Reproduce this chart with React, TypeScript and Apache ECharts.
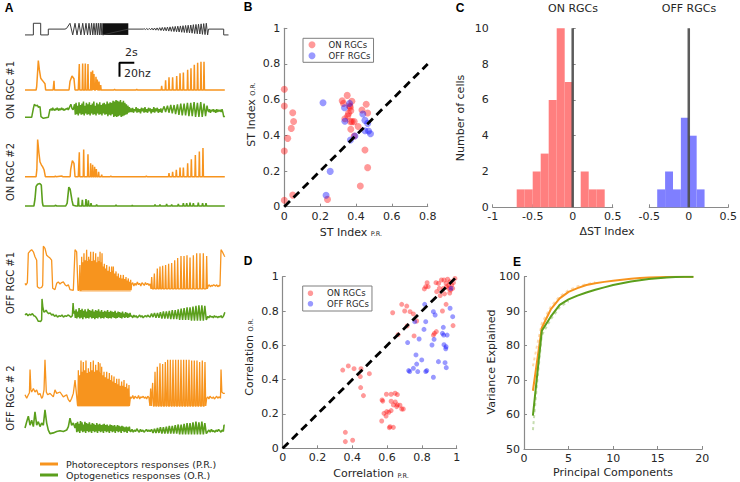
import React, { useEffect, useRef } from "react";
import * as echarts from "echarts";

// ---------------- colours & fonts ----------------
const ORANGE = "#f7941e";
const GREEN = "#5b9f1c";
const RED = "rgba(255,0,0,0.5)";
const BLUE = "rgba(0,0,255,0.5)";
const ON_HIST = "#ff7f7f";
const OFF_HIST = "#7f7fff";
const AXIS = "#8a8a8a";
const TXT = "#262626";
const FONT = "DejaVu Sans";
const PR_NAME = "Photoreceptors responses (P.R.)";
const OR_NAME = "Optogenetics responses (O.R.)";

// ---------------- Panel A data (time in s, rate in Hz) ----------------
const stimSteps = [[0, 0], [1.13, 0], [1.13, 1], [2.12, 1], [2.12, 0], [3.15, 0], [3.15, 0.5], [5.4, 0.5]];
const stimFreqChirp = [[5.6, 0.55], [6.08, 1], [6.45, 0], [6.76, 1], [7.03, 0], [7.3, 1], [7.55, 0], [7.8, 1], [8.02, 0], [8.24, 1], [8.45, 0], [8.65, 1], [8.83, 0], [9.0, 1], [9.16, 0], [9.32, 1], [9.48, 0], [9.64, 1], [9.78, 0], [9.91, 1], [10.05, 0], [10.18, 1], [10.29, 0], [10.4, 1], [10.5, 0]];
const stimDenseBlock = [10.5, 13.96];
const stimMid = [[13.96, 0.5], [16.0, 0.5]];
const stimAmpChirp = [[16.1, 0.54], [16.28, 0.46], [16.45, 0.55], [16.63, 0.45], [16.8, 0.56], [16.98, 0.44], [17.15, 0.58], [17.33, 0.42], [17.5, 0.59], [17.68, 0.41], [17.85, 0.6], [18.03, 0.4], [18.2, 0.62], [18.38, 0.38], [18.55, 0.64], [18.73, 0.36], [18.9, 0.65], [19.08, 0.35], [19.25, 0.67], [19.43, 0.33], [19.6, 0.69], [19.78, 0.31], [19.95, 0.71], [20.13, 0.29], [20.3, 0.73], [20.48, 0.27], [20.65, 0.75], [20.83, 0.25], [21.0, 0.77], [21.18, 0.23], [21.35, 0.79], [21.53, 0.21], [21.7, 0.81], [21.88, 0.19], [22.05, 0.83], [22.23, 0.17], [22.4, 0.85], [22.58, 0.15], [22.75, 0.88], [22.93, 0.12], [23.1, 0.9], [23.28, 0.1], [23.45, 0.92], [23.63, 0.08], [23.8, 0.95], [23.98, 0.05], [24.15, 0.97], [24.33, 0.03], [24.5, 1.0], [24.68, 0.0]];
const stimEnd = [[24.8, 0.5], [26.85, 0.5], [26.85, 0], [27.5, 0]];

const on1OrangeBase = [[0, 0], [1.5, 0], [1.58, 5], [1.8, 42], [1.94, 29], [2.12, 17], [2.25, 15], [2.48, 12], [2.7, 9], [2.79, 0], [3.8, 0], [4.1, 0], [5.95, 0], [6.08, 12], [6.35, 20], [6.62, 16], [6.76, 0], [7.2, 0], [10.35, 0], [12, 0], [12.1, 1], [12.2, 0], [15, 0], [15.1, 1], [15.2, 0], [18.3, 0], [24.35, 0], [27, 0]];
const on1OrangeSpikes = [[3.92, 13], [7.34, 37], [7.79, 38], [8.15, 38], [8.51, 37], [8.92, 26], [9.14, 28], [9.32, 23], [9.59, 19], [9.77, 15], [10.0, 12], [10.23, 7], [18.47, 6], [19.0, 14], [19.46, 18], [19.95, 18], [20.5, 20], [20.95, 24], [21.4, 25], [21.98, 29], [22.43, 31], [22.88, 36], [23.33, 39], [23.78, 40.5], [24.19, 40.5]];

const on1GreenBase = [[0, 1.4], [0.9, 1.4], [1.13, 14], [1.26, 20], [1.49, 17.6], [1.67, 19], [1.8, 15.7], [2.03, 16.7], [2.16, 2.4], [2.48, 0], [3.15, 1.4], [3.38, 12.9]];
const on1GreenPre = [12, 14, 11, 15, 12, 13, 11, 14, 12, 15, 13, 11, 14, 12, 13, 15, 12, 14, 11, 13, 12, 14, 13, 15, 12, 14];
const on1GreenBump = [[6.08, 17.6], [6.2, 20], [6.35, 14], [6.5, 12]];
const on1GreenDense = [20, 5, 22, 6, 18, 4, 23, 7, 19, 5, 21, 6, 24, 4, 18, 7, 22, 5, 20, 6, 23, 4, 19, 7, 21, 5, 24, 6, 18, 4, 22, 7, 20, 5, 23, 6, 19, 4, 21, 7, 22, 5, 20, 6, 24, 3, 21, 5, 23, 4, 22, 6, 25, 2, 24, 3, 26, 2, 25, 3, 24, 4, 26, 2, 23, 3, 25, 4, 22, 5, 20, 6, 18, 8, 16, 9];
const on1GreenMid = [14, 9, 15, 8, 13, 10, 16, 8, 14, 9, 13, 7, 15, 10, 14, 8, 16, 9, 13, 8, 15, 10, 14, 7, 13, 9, 16, 8, 14, 10, 15, 8, 13, 9, 14, 8, 12];
const on1GreenChirp = [[18.8, 17], [19.0, 9], [19.25, 18], [19.45, 8], [19.7, 19], [19.9, 7], [20.15, 19], [20.35, 6], [20.6, 20], [20.8, 5], [21.05, 21], [21.25, 4], [21.5, 21], [21.7, 4], [21.95, 22], [22.15, 3], [22.4, 22], [22.6, 3], [22.85, 23], [23.05, 2], [23.3, 22], [23.5, 2], [23.75, 23], [23.95, 2], [24.2, 21], [24.4, 3], [24.6, 18]];
const on1GreenPost = [12, 9, 13, 8, 12, 10, 13, 9, 12, 8, 13, 9, 12, 10, 12, 9, 13, 8];
const on1GreenEnd = [[26.85, 2], [27, 3]];

const on2OrangeBase = [[0, 0], [1.5, 0], [1.6, 10], [1.71, 53], [1.89, 33], [2.03, 21], [2.21, 17], [2.39, 14], [2.57, 10], [2.7, 3], [2.75, 0], [4.0, 0], [4.1, 1], [4.2, 0], [5.0, 1], [5.1, 0], [6.1, 0], [6.17, 10], [6.4, 23], [6.62, 19], [6.76, 0], [7.2, 0], [11.5, 0], [11.6, 1], [11.7, 0], [16.3, 0], [16.4, 1], [16.5, 0], [19.3, 0], [24.2, 0], [27, 0]];
const on2OrangeSpikes = [[7.34, 35], [7.93, 39], [8.51, 32], [8.87, 19], [9.14, 17], [9.41, 14], [9.64, 11], [9.95, 7], [10.36, 3], [19.46, 5], [19.95, 7], [20.45, 10], [20.95, 13], [21.4, 13], [21.98, 19], [22.48, 25], [23.02, 31], [23.56, 36], [24.05, 41]];

const on2GreenBase = [[0, 0], [1.2, 0], [1.35, 10], [1.5, 28], [1.7, 31], [2.0, 32], [2.2, 30], [2.35, 5], [2.45, 0], [4.0, 0], [4.1, 1], [4.3, 0], [5.5, 0], [5.7, 4], [5.92, 27], [6.1, 24], [6.35, 8], [6.5, 1], [6.9, 0], [27, 0]];
const on2GreenSpikes = [[7.21, 12], [7.75, 9], [8.24, 10], [8.56, 8], [8.92, 4], [9.68, 2], [12.3, 1.5], [14.5, 1], [17.57, 2], [18.24, 2], [19.14, 3], [19.82, 2], [20.72, 3], [21.4, 4], [21.85, 4], [22.3, 5], [22.75, 4], [23.42, 5], [24.0, 4], [24.46, 4]];

const off1OrangeBase = [[0, 12], [0.14, 9.5], [0.32, 13], [0.45, 55], [0.68, 58], [0.9, 60], [1.13, 57], [1.35, 50], [1.58, 45], [1.67, 7], [1.94, 5], [2.25, 6], [2.39, 9], [2.48, 65], [2.7, 62], [2.93, 52], [3.15, 50], [3.38, 48], [3.6, 45], [3.74, 5], [4.05, 3], [4.28, 12], [4.5, 14], [4.73, 11], [4.95, 13], [5.18, 14], [5.41, 10], [5.63, 8], [5.86, 10], [6.08, 3], [6.53, 2], [6.76, 60], [6.98, 57], [7.16, 2], [7.3, 2]];
const off1OrangeDense = [[7.42, 38], [7.66, 50], [7.82, 42], [7.97, 55], [8.15, 45], [8.33, 60], [8.47, 44], [8.6, 50], [8.74, 46], [8.87, 57], [9.05, 44], [9.23, 57], [9.39, 45], [9.55, 55], [9.7, 42], [9.86, 50], [10.0, 44], [10.14, 57], [10.28, 42], [10.41, 55], [10.56, 36], [10.72, 40], [10.88, 33], [11.04, 38], [11.22, 30], [11.4, 36], [11.55, 28], [11.71, 36], [11.83, 30], [11.94, 36], [12.12, 26], [12.3, 29], [12.45, 22], [12.61, 26], [12.77, 20], [12.93, 24], [13.11, 19], [13.29, 24], [13.47, 18], [13.65, 21], [13.8, 16], [13.96, 19], [14.12, 14], [14.28, 17]];
const off1OrangeFill = [[7.35, 0], [7.45, 26], [8, 36], [9.5, 36], [10.5, 34], [11, 26], [12, 22], [13, 15], [14.25, 11], [14.3, 0]];
const off1OrangeMid = [10, 13, 8, 12, 9, 14, 10, 12, 8, 13, 11, 9, 13, 10, 12, 9, 11];
const off1OrangeChirp = [[17.12, 21], [17.48, 26], [17.88, 33], [18.24, 36], [18.6, 37], [19.0, 38], [19.41, 40], [19.82, 41], [20.23, 45], [20.63, 48], [21.08, 51], [21.49, 51], [21.89, 52], [22.3, 49], [22.75, 52], [23.2, 55], [23.65, 55], [24.1, 55], [24.55, 51]];
const off1OrangePost = [8, 10, 7, 9, 8, 10, 9, 8, 10, 7, 9, 8];
const off1OrangeEnd = [[26.42, 8], [26.49, 60], [26.67, 57], [26.9, 52], [27.0, 50]];

const off1GreenBase = [[0, 10], [0.2, 12], [0.4, 9], [0.6, 11], [0.8, 10], [1.0, 12], [1.2, 9], [1.4, 8], [1.6, 5], [1.8, 1], [2.0, 1], [2.1, 0.5], [2.25, 3], [2.3, 33], [2.4, 22], [2.55, 14], [2.7, 15], [2.85, 17], [3.0, 14], [3.2, 12], [3.4, 13], [3.6, 10], [3.8, 11], [4.0, 8], [4.2, 10], [4.4, 7], [4.6, 9], [4.8, 8], [5.0, 10], [5.2, 7], [5.4, 9], [5.6, 8], [5.8, 10], [6.0, 9], [6.2, 7], [6.4, 9], [6.5, 27], [6.6, 12]];
const off1GreenDense = [16, 6, 18, 5, 15, 7, 20, 5, 17, 6, 19, 4, 16, 7, 18, 5, 15, 6, 19, 5, 17, 7, 16, 5, 18, 6, 15, 4, 17, 6, 16, 5, 18, 7, 15, 5, 17, 6, 14, 5, 16, 7, 15, 6, 17, 5, 14, 6, 16, 5, 15, 7, 14, 6, 16, 5, 13, 6, 15, 7, 14, 6, 13, 5, 15, 7, 12, 6, 14, 7, 13, 6, 12, 7, 13, 8];
const off1GreenMid = [9, 6, 10, 7, 9, 6, 8, 10, 7, 9, 6, 8, 9, 7, 10, 8, 7];
const off1GreenChirp = [[17.1, 12], [17.3, 7], [17.5, 13], [17.7, 6], [17.9, 13], [18.1, 6], [18.3, 14], [18.5, 5], [18.7, 15], [18.9, 5], [19.1, 15], [19.3, 5], [19.5, 16], [19.7, 4], [19.9, 17], [20.1, 4], [20.3, 17], [20.5, 4], [20.7, 18], [20.9, 3], [21.1, 19], [21.3, 3], [21.5, 20], [21.7, 3], [21.9, 21], [22.1, 3], [22.3, 21], [22.5, 2], [22.7, 22], [22.9, 2], [23.1, 23], [23.3, 2], [23.5, 24], [23.7, 2], [23.9, 24], [24.1, 2], [24.3, 23], [24.5, 3]];
const off1GreenPost = [8, 6, 9, 7, 8, 6, 9, 7, 8, 6, 8, 7, 9, 6, 8];
const off1GreenEnd = [[26.95, 12], [27, 14]];

const off2OrangeBase = [[0, 17], [0.23, 12], [0.45, 17], [0.6, 20], [0.68, 53], [0.8, 24], [0.9, 21], [1.13, 26], [1.35, 21], [1.58, 24], [1.8, 17], [2.03, 19], [2.25, 12], [2.39, 14], [2.57, 24], [2.7, 67], [2.88, 21], [3.06, 17], [3.38, 19], [3.83, 14], [4.05, 24], [4.28, 19], [4.73, 21], [5.18, 14], [5.63, 17], [5.86, 10], [6.08, 7], [6.31, 12], [6.53, 19], [6.76, 38], [6.9, 24], [7.1, 2]];
const off2OrangeDense = [[7.21, 52], [7.39, 45], [7.57, 66], [7.72, 50], [7.88, 64], [8.06, 52], [8.24, 66], [8.4, 48], [8.56, 55], [8.72, 50], [8.87, 64], [9.05, 52], [9.23, 66], [9.39, 50], [9.55, 60], [9.73, 52], [9.91, 64], [10.03, 50], [10.14, 62], [10.25, 48], [10.36, 57], [10.52, 45], [10.68, 50], [10.86, 42], [11.04, 50], [11.22, 40], [11.4, 48], [11.55, 38], [11.71, 45], [11.87, 36], [12.03, 43], [12.21, 34], [12.39, 40], [12.55, 32], [12.7, 40], [12.88, 30], [13.06, 36], [13.22, 30], [13.38, 38], [13.56, 28], [13.74, 33], [13.9, 26], [14.05, 31]];
const off2OrangeFill = [[7.12, 0], [7.2, 34], [8, 44], [9.5, 44], [10.5, 36], [11.5, 30], [12.5, 25], [13.5, 21], [14.05, 18], [14.1, 0]];
const off2OrangeMid = [14, 12, 16, 11, 15, 13, 12, 16, 11, 14, 13, 15, 12, 14, 11, 15, 13];
const off2OrangeChirp = [[16.98, 26], [17.25, 34], [17.57, 50], [17.88, 57], [18.24, 62], [18.6, 61], [18.96, 64], [19.28, 67], [19.64, 67], [20.0, 67], [20.36, 67], [20.72, 67], [21.08, 67], [21.44, 67], [21.8, 67], [22.16, 67], [22.52, 66], [22.88, 66], [23.24, 66], [23.6, 64], [23.96, 66], [24.32, 64]];
const off2OrangePost = [12, 14, 11, 15, 13, 12, 14, 11, 13, 15, 12, 14, 13];
const off2OrangeEnd = [[26.42, 12], [26.49, 53], [26.6, 21], [26.8, 19], [27, 19]];

const off2GreenBase = [[0, 10], [0.23, 19], [0.45, 27], [0.68, 14], [0.9, 21], [1.13, 12], [1.35, 33], [1.58, 14], [1.8, 19], [2.03, 12], [2.25, 17], [2.48, 14], [2.7, 36], [2.93, 17], [3.15, 7], [3.38, 2], [3.83, 3], [4.28, 5], [4.73, 6], [5.18, 5], [5.63, 7], [5.86, 12], [6.08, 24], [6.31, 14], [6.53, 17], [6.76, 10]];
const off2GreenDense = [17, 4, 19, 5, 16, 3, 20, 6, 18, 4, 15, 5, 19, 3, 17, 6, 16, 4, 18, 5, 15, 3, 17, 6, 16, 4, 14, 5, 17, 3, 15, 6, 16, 4, 14, 5, 15, 3, 16, 6, 14, 4, 15, 5, 13, 3, 15, 6, 14, 4, 13, 5, 14, 3, 12, 6, 14, 4, 13, 5, 12, 3, 13, 6, 12, 4, 11, 5, 12, 3, 11, 6, 12, 5];
const off2GreenMid = [5, 8, 4, 7, 5, 9, 6, 4, 8, 5, 7, 4, 6, 8, 5, 7, 5];
const off2GreenChirp = [[17.1, 8], [17.3, 3], [17.5, 9], [17.7, 3], [17.9, 10], [18.1, 3], [18.3, 11], [18.5, 2], [18.7, 11], [18.9, 2], [19.1, 12], [19.3, 2], [19.5, 13], [19.7, 2], [19.9, 13], [20.1, 2], [20.3, 14], [20.5, 2], [20.7, 15], [20.9, 1], [21.1, 15], [21.3, 1], [21.5, 16], [21.7, 1], [21.9, 17], [22.1, 1], [22.3, 17], [22.5, 1], [22.7, 18], [22.9, 1], [23.1, 19], [23.3, 1], [23.5, 18], [23.7, 1], [23.9, 19], [24.1, 1], [24.3, 17], [24.5, 2]];
const off2GreenPost = [5, 7, 4, 8, 5, 6, 4, 7, 5, 8, 6, 4, 7, 5];
const off2GreenEnd = [[26.9, 14], [27, 14]];

const scaleBarSeconds = 2;
const scaleBarHz = 20;
const scaleBarOrigin = [12.77, 19];

// ---------------- Panel B data ----------------
const bOn = [[0, 0.658], [0, 0.564], [0, 0.312], [0, 0.036], [0.047, 0.527], [0.052, 0.478], [0.039, 0.439], [0.019, 0.383], [0.047, 0.065], [0.241, 0.041], [0.351, 0.624], [0.323, 0.594], [0.33, 0.579], [0.377, 0.591], [0.364, 0.564], [0.368, 0.558], [0.371, 0.538], [0.358, 0.523], [0.354, 0.508], [0.338, 0.493], [0.369, 0.477], [0.378, 0.477], [0.39, 0.477], [0.371, 0.434], [0.412, 0.45], [0.39, 0.396], [0.457, 0.574], [0.465, 0.525], [0.433, 0.542], [0.45, 0.318], [0.465, 0.219], [0.424, 0.116]];
const bOff = [[0.216, 0.583], [0.256, 0.198], [0.233, 0.064], [0.336, 0.555], [0.364, 0.579], [0.338, 0.479], [0.369, 0.374], [0.394, 0.396], [0.438, 0.52], [0.45, 0.484], [0.465, 0.467], [0.45, 0.426], [0.47, 0.424], [0.481, 0.409]];
const bDiagonal = [[0, 0], [0.8, 0.8]];

// ---------------- Panel C data ----------------
const histBin = 0.1;
const onBinStarts = [-0.7, -0.6, -0.5, -0.4, -0.3, -0.2, -0.1, 0, 0.1, 0.2, 0.3];
const onCounts = [1, 1, 2, 3, 6, 10, 7, 0, 2, 1, 1];
const offBinStarts = [-0.4, -0.3, -0.2, -0.1, 0, 0.1];
const offCounts = [1, 2, 1, 5, 4, 1];
const zeroLine = [[0, 0], [0, 10]];

// ---------------- Panel D data ----------------
const dOn = [[0.822, 0.942], [0.83, 0.965], [0.814, 0.929], [0.836, 0.942], [0.881, 0.965], [0.896, 0.961], [0.912, 0.981], [0.927, 0.981], [0.948, 0.985], [0.939, 0.961], [0.962, 0.971], [0.971, 0.952], [0.981, 0.965], [0.952, 0.932], [0.977, 0.932], [0.923, 0.932], [0.885, 0.913], [0.9, 0.932], [0.942, 0.942], [0.965, 0.922], [0.99, 0.99], [0.955, 0.95], [0.93, 0.9], [0.96, 0.905], [0.905, 0.89], [0.632, 0.79], [0.684, 0.839], [0.713, 0.829], [0.701, 0.8], [0.732, 0.796], [0.751, 0.783], [0.715, 0.713], [0.663, 0.662], [0.77, 0.742], [0.755, 0.655], [0.872, 0.67], [0.866, 0.66], [0.939, 0.839], [0.918, 0.8], [0.979, 0.715], [0.883, 0.68], [0.345, 0.456], [0.377, 0.48], [0.41, 0.464], [0.45, 0.464], [0.498, 0.435], [0.446, 0.418], [0.448, 0.354], [0.464, 0.307], [0.571, 0.282], [0.575, 0.275], [0.596, 0.315], [0.623, 0.315], [0.646, 0.321], [0.659, 0.313], [0.623, 0.274], [0.647, 0.27], [0.636, 0.253], [0.659, 0.253], [0.674, 0.251], [0.655, 0.243], [0.684, 0.229], [0.693, 0.229], [0.623, 0.22], [0.598, 0.214], [0.582, 0.204], [0.594, 0.188], [0.61, 0.21], [0.569, 0.159], [0.617, 0.126], [0.636, 0.122], [0.613, 0.12], [0.36, 0.093], [0.36, 0.039], [0.402, 0.047]];
const dOff = [[0.816, 0.839], [0.866, 0.796], [0.876, 0.777], [0.822, 0.738], [0.759, 0.738], [0.812, 0.693], [0.718, 0.616], [0.784, 0.637], [0.923, 0.705], [0.918, 0.67], [0.858, 0.602], [0.927, 0.604], [0.939, 0.592], [0.937, 0.58], [0.962, 0.816], [0.977, 0.767], [0.967, 0.932], [0.87, 0.635], [0.766, 0.544], [0.799, 0.515], [0.77, 0.491], [0.751, 0.466], [0.724, 0.453], [0.828, 0.453], [0.895, 0.505], [0.933, 0.499], [0.866, 0.414], [0.73, 0.447], [0.776, 0.447], [0.822, 0.447], [0.94, 0.47], [0.945, 0.66], [0.925, 0.66]];
const dDiagonal = [[0, 0], [1, 1]];

// ---------------- Panel E data ----------------
const eComponents = [1, 2, 3, 4, 5, 6, 7, 8, 9, 10, 11, 12, 13, 14, 15, 16, 17, 18, 19];
const ePR = [66.9, 85.2, 90.5, 93.7, 95.6, 96.7, 97.6, 98.1, 98.5, 98.8, 99.1, 99.4, 99.6, 99.75, 99.85, 99.92, 99.96, 99.98, 100];
const eOR = [59.7, 84.3, 88.4, 91.8, 93.4, 94.5, 95.4, 96.2, 96.9, 97.6, 98.1, 98.6, 99.0, 99.3, 99.55, 99.75, 99.88, 99.95, 100];
const ePRSpread = [[1, 74], [1.5, 80.5], [2, 86.5], [3, 91.3], [4, 94.3], [5, 96.1], [6, 97.2], [8, 98.4]];
const eORSpread = [[1, 55.5], [1.5, 70], [2, 83], [3, 87.6], [4, 91.1], [5, 92.9]];

// ---------------- helpers ----------------
const segSpan = (t0: number, t1: number, vals: number[]) =>
  vals.map((v, i) => [t0 + ((t1 - t0) * i) / (vals.length - 1), v]);
const spikeShape = (list: number[][], floor: number, hw: number) =>
  list.flatMap(([t, h]) => [[t - hw, floor], [t, h], [t + hw, floor]]);
const merge = (...parts: number[][][]) => parts.flat().sort((a, b) => a[0] - b[0]);

const stimulus = merge(stimSteps, stimFreqChirp, stimMid, stimAmpChirp, stimEnd);
const on1Orange = merge(on1OrangeBase, spikeShape(on1OrangeSpikes, 0, 0.06));
const on1Green = merge(on1GreenBase, segSpan(3.45, 5.95, on1GreenPre), on1GreenBump, segSpan(6.7, 14.2, on1GreenDense), segSpan(14.3, 18.6, on1GreenMid), on1GreenChirp, segSpan(24.7, 26.75, on1GreenPost), on1GreenEnd);
const on2Orange = merge(on2OrangeBase, spikeShape(on2OrangeSpikes, 0, 0.06));
const on2Green = merge(on2GreenBase, spikeShape(on2GreenSpikes, 0, 0.07));
const off1Orange = merge(off1OrangeBase, spikeShape(off1OrangeDense, 2, 0.06), segSpan(14.4, 16.9, off1OrangeMid), spikeShape(off1OrangeChirp, 4, 0.09), segSpan(24.75, 26.35, off1OrangePost), off1OrangeEnd);
const off1Green = merge(off1GreenBase, segSpan(6.7, 14.3, off1GreenDense), segSpan(14.4, 16.9, off1GreenMid), off1GreenChirp, segSpan(24.7, 26.8, off1GreenPost), off1GreenEnd);
const off2Orange = merge(off2OrangeBase, spikeShape(off2OrangeDense, 1, 0.06), segSpan(14.25, 16.75, off2OrangeMid), spikeShape(off2OrangeChirp, 1, 0.1), segSpan(24.55, 26.35, off2OrangePost), off2OrangeEnd);
const off2Green = merge(off2GreenBase, segSpan(6.9, 14.2, off2GreenDense), segSpan(14.3, 16.9, off2GreenMid), off2GreenChirp, segSpan(24.7, 26.8, off2GreenPost), off2GreenEnd);

// grid layout of panel A: [top, height, yMin, yMax]
const A_LEFT = 25;
const A_WIDTH = 203.5;
const A_TMAX = 27.5;
const aGrids = [
  [22.1, 14, -0.1, 1.1],
  [57.8, 33.6, -2, 46],
  [97.3, 22.4, -2, 30],
  [137.5, 40.6, -2, 56],
  [181.5, 25.9, -2, 35],
  [244.1, 49, -2, 68],
  [296.8, 26.6, -2, 36],
  [357.7, 50.4, -2, 70],
  [408.4, 28, -2, 38],
];

const axisStyle = {
  axisLine: { show: true, lineStyle: { color: AXIS, width: 1.2 } },
  axisTick: { show: true, inside: true, length: 3, lineStyle: { color: AXIS } },
  axisLabel: { color: TXT, fontSize: 11, fontFamily: FONT, margin: 4 },
  splitLine: { show: false },
};

const txt = (text: string, x: number, y: number, o: any = {}) => ({
  type: "text",
  x,
  y,
  rotation: o.rotation || 0,
  z: 100,
  style: {
    text,
    fill: o.fill || TXT,
    fontSize: o.fontSize || 11,
    fontFamily: o.fontFamily || FONT,
    fontWeight: o.fontWeight || "normal",
    align: o.align || "center",
    verticalAlign: "middle",
    rich: o.rich,
  },
});
const subRich = {
  m: { fontSize: 11, fontFamily: FONT, fill: TXT, lineHeight: 13, verticalAlign: "bottom" },
  s: { fontSize: 6.5, fontFamily: FONT, fill: TXT, lineHeight: 13, verticalAlign: "bottom" },
};

export default function App() {
  const ref = useRef<HTMLDivElement>(null);
  useEffect(() => {
    if (!ref.current) return;
    const chart = echarts.init(ref.current, undefined, { renderer: "svg" });

    const grid: any[] = [];
    const xAxis: any[] = [];
    const yAxis: any[] = [];
    aGrids.forEach(([top, height, ymin, ymax], i) => {
      grid.push({ left: A_LEFT, top, width: A_WIDTH, height });
      xAxis.push({ gridIndex: i, type: "value", min: 0, max: A_TMAX, show: false });
      yAxis.push({ gridIndex: i, type: "value", min: ymin, max: ymax, show: false });
    });
    // 9: B
    grid.push({ left: 284.3, top: 28.3, width: 143.4, height: 178.4 });
    xAxis.push({ gridIndex: 9, type: "value", min: 0, max: 0.8, interval: 0.2, ...axisStyle });
    yAxis.push({ gridIndex: 9, type: "value", min: 0, max: 1, interval: 0.2, ...axisStyle });
    // 10: C ON
    grid.push({ left: 492.7, top: 28.3, width: 120, height: 179 });
    xAxis.push({ gridIndex: 10, type: "value", min: -1, max: 0.5, interval: 0.5, ...axisStyle });
    yAxis.push({ gridIndex: 10, type: "value", min: 0, max: 10, interval: 2, ...axisStyle, axisLine: { show: false }, axisTick: { show: true, inside: true, length: 3, lineStyle: { color: AXIS } } });
    // 11: C OFF
    grid.push({ left: 649.3, top: 28.3, width: 81.7, height: 179 });
    xAxis.push({ gridIndex: 11, type: "value", min: -0.5, max: 0.5, interval: 0.5, ...axisStyle });
    yAxis.push({ gridIndex: 11, type: "value", min: 0, max: 10, show: false });
    // 12: D
    grid.push({ left: 282.7, top: 276.7, width: 174, height: 171.6 });
    xAxis.push({ gridIndex: 12, type: "value", min: 0, max: 1, interval: 0.2, ...axisStyle });
    yAxis.push({ gridIndex: 12, type: "value", min: 0, max: 1, interval: 0.2, ...axisStyle });
    // 13: E
    grid.push({ left: 524, top: 276.7, width: 178.3, height: 172.3 });
    xAxis.push({ gridIndex: 13, type: "value", min: 0, max: 20, interval: 5, ...axisStyle });
    yAxis.push({ gridIndex: 13, type: "value", min: 50, max: 100, interval: 10, ...axisStyle });

    const trace = (name: string, idx: number, data: number[][], color: string, width: number) => ({
      type: "line", name, xAxisIndex: idx, yAxisIndex: idx, data, symbol: "none", showSymbol: false,
      color, lineStyle: { color, width }, clip: false, silent: true,
    });
    const fill = (idx: number, data: number[][]) => ({
      type: "line", name: "fill", xAxisIndex: idx, yAxisIndex: idx, data, symbol: "none",
      lineStyle: { width: 0 }, areaStyle: { color: ORANGE, opacity: 0.5 }, silent: true, z: 1,
    });

    const histData = (starts: number[], counts: number[]) =>
      starts.map((s, i) => [s, s + histBin, counts[i]]).filter((d) => d[2] > 0);
    const hist = (name: string, idx: number, starts: number[], counts: number[], color: string) => ({
      type: "custom", name, xAxisIndex: idx, yAxisIndex: idx, data: histData(starts, counts),
      encode: { x: [0, 1], y: 2 },
      renderItem: (_p: any, api: any) => {
        const a = api.coord([api.value(0), api.value(2)]);
        const b = api.coord([api.value(1), 0]);
        return { type: "rect", shape: { x: a[0], y: a[1], width: b[0] - a[0], height: b[1] - a[1] }, style: { fill: color } };
      },
    });

    const scatter = (name: string, idx: number, data: number[][], color: string, size: number) => ({
      type: "scatter", name, xAxisIndex: idx, yAxisIndex: idx, data, symbolSize: size,
      itemStyle: { color }, color,
    });
    const diag = (idx: number, data: number[][]) => ({
      type: "line", name: "diagonal", xAxisIndex: idx, yAxisIndex: idx, data, symbol: "none",
      lineStyle: { color: "#000", width: 2.8, type: [8, 5] }, z: 5, silent: true,
    });

    const series: any[] = [
      {
        ...trace("stimulus", 0, stimulus, "#3a3a3a", 1),
        markArea: {
          silent: true,
          itemStyle: { color: "#111" },
          data: [[{ coord: [stimDenseBlock[0], 0] }, { coord: [stimDenseBlock[1], 1] }]],
        },
      },
      trace(PR_NAME, 1, on1Orange, ORANGE, 1.5),
      {
        type: "line", name: "scale bar", xAxisIndex: 1, yAxisIndex: 1, symbol: "none", silent: true,
        data: [[scaleBarOrigin[0], scaleBarOrigin[1]], [scaleBarOrigin[0], scaleBarOrigin[1] + scaleBarHz], [scaleBarOrigin[0] + scaleBarSeconds, scaleBarOrigin[1] + scaleBarHz]],
        lineStyle: { color: "#000", width: 2 }, clip: false,
      },
      trace(OR_NAME, 2, on1Green, GREEN, 1.5),
      trace(PR_NAME, 3, on2Orange, ORANGE, 1.5),
      trace(OR_NAME, 4, on2Green, GREEN, 1.6),
      fill(5, off1OrangeFill),
      trace(PR_NAME, 5, off1Orange, ORANGE, 1.3),
      trace(OR_NAME, 6, off1Green, GREEN, 1.5),
      fill(7, off2OrangeFill),
      trace(PR_NAME, 7, off2Orange, ORANGE, 1.3),
      trace(OR_NAME, 8, off2Green, GREEN, 1.6),
      // B
      diag(9, bDiagonal),
      scatter("ON RGCs", 9, bOn, RED, 7),
      scatter("OFF RGCs", 9, bOff, BLUE, 7),
      // C
      hist("ON hist", 10, onBinStarts, onCounts, ON_HIST),
      hist("OFF hist", 11, offBinStarts, offCounts, OFF_HIST),
      { type: "line", name: "zero", xAxisIndex: 10, yAxisIndex: 10, data: zeroLine, symbol: "none", lineStyle: { color: "#4a4a4a", width: 2.5, opacity: 0.9 }, z: 5 },
      { type: "line", name: "zero", xAxisIndex: 11, yAxisIndex: 11, data: zeroLine, symbol: "none", lineStyle: { color: "#4a4a4a", width: 2.5, opacity: 0.9 }, z: 5 },
      // D
      diag(12, dDiagonal),
      scatter("ON RGCs", 12, dOn, RED, 5),
      scatter("OFF RGCs", 12, dOff, BLUE, 5),
      // E
      { type: "line", name: "spread", xAxisIndex: 13, yAxisIndex: 13, data: ePRSpread, symbol: "none", lineStyle: { color: ORANGE, width: 2, opacity: 0.35, type: [3, 3] } },
      { type: "line", name: "spread", xAxisIndex: 13, yAxisIndex: 13, data: eORSpread, symbol: "none", lineStyle: { color: GREEN, width: 2, opacity: 0.35, type: [3, 3] } },
      { type: "line", name: PR_NAME, xAxisIndex: 13, yAxisIndex: 13, data: eComponents.map((c, i) => [c, ePR[i]]), symbol: "none", color: ORANGE, lineStyle: { color: ORANGE, width: 2 } },
      { type: "line", name: OR_NAME, xAxisIndex: 13, yAxisIndex: 13, data: eComponents.map((c, i) => [c, eOR[i]]), symbol: "none", color: GREEN, lineStyle: { color: GREEN, width: 2 } },
    ];

    const legendText = (fs: number, lh: number) => ({ fontSize: fs, fontFamily: FONT, color: TXT, lineHeight: lh });
    const legend = [
      {
        data: [PR_NAME, OR_NAME], orient: "vertical", left: 40, top: 458.5, padding: 0, itemGap: 0,
        itemWidth: 18, itemHeight: 3, icon: "rect", selectedMode: false,
        textStyle: { ...legendText(9.5, 11), padding: [0, 0, 0, 3] },
      },
      {
        data: ["ON RGCs", "OFF RGCs"], orient: "vertical", left: 303, top: 38.3, padding: [1, 3, 1, 5.5], itemGap: 0,
        itemWidth: 23, itemHeight: 7, icon: "circle", selectedMode: false, borderColor: "#7f7f7f", borderWidth: 1,
        textStyle: legendText(8.5, 11),
      },
      {
        data: ["ON RGCs", "OFF RGCs"], orient: "vertical", left: 302.7, top: 286, padding: [2, 3, 2, 5], itemGap: 0,
        itemWidth: 23, itemHeight: 5.5, icon: "circle", selectedMode: false, borderColor: "#7f7f7f", borderWidth: 1,
        textStyle: legendText(8.5, 10.5),
      },
    ];

    const bold = { fontWeight: "bold", fontFamily: "Liberation Sans", fontSize: 12, fill: "#000" };
    const graphic = [
      txt("A", 9, 8, bold), txt("B", 248, 7, bold), txt("C", 460, 8, bold), txt("D", 248, 261, bold), txt("E", 517, 262, bold),
      txt("ON RGC #1", 10, 90, { rotation: Math.PI / 2, fontSize: 10 }),
      txt("ON RGC #2", 10, 172, { rotation: Math.PI / 2, fontSize: 10 }),
      txt("OFF RGC #1", 10, 283, { rotation: Math.PI / 2, fontSize: 10 }),
      txt("OFF RGC # 2", 10, 398, { rotation: Math.PI / 2, fontSize: 10 }),
      txt("2s", 125, 52, { align: "left" }),
      txt("20hz", 124, 73, { align: "left" }),
      txt("{m|ST Index} {s|O.R.}", 250, 114.5, { rotation: Math.PI / 2, rich: subRich }),
      txt("{m|ST Index} {s|P.R.}", 351, 231, { rich: subRich }),
      txt("ON RGCs", 573, 8),
      txt("OFF RGCs", 689, 8),
      txt("Number of cells", 460, 118, { rotation: Math.PI / 2 }),
      txt("ΔST Index", 607, 231),
      txt("{m|Correlation} {s|P.R.}", 371, 472.7, { rich: subRich }),
      txt("{m|Correlation} {s|O.R.}", 248, 357, { rotation: Math.PI / 2, rich: subRich }),
      txt("Principal Components", 613, 472),
      txt("Variance Explained", 491, 362, { rotation: Math.PI / 2 }),
    ];

    chart.setOption({
      animation: false,
      backgroundColor: "#fff",
      textStyle: { fontFamily: FONT },
      grid, xAxis, yAxis, series, legend, graphic,
    });
    return () => chart.dispose();
  }, []);
  return <div ref={ref} style={{ position: "fixed", left: 0, top: 0, width: 740, height: 482, background: "#fff" }} />;
}
